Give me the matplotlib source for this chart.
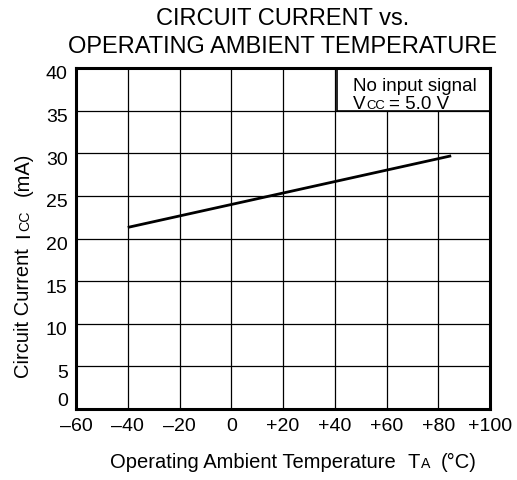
import matplotlib
matplotlib.use('Agg')
import matplotlib.pyplot as plt
from matplotlib.patches import Rectangle
from matplotlib.transforms import IdentityTransform, ScaledTranslation

plt.rcParams['font.family'] = 'Liberation Sans'

# data
temp = [-40, 85]          # Ta (deg C)
icc = [21.3, 29.7]        # Icc (mA)

xticks = [-60, -40, -20, 0, 20, 40, 60, 80, 100]
xlabels = ['\u201360', '\u201340', '\u201320', '0', '+20', '+40', '+60', '+80', '+100']
yticks = [0, 5, 10, 15, 20, 25, 30, 35, 40]

W, H = 517, 481
fig = plt.figure(figsize=(W / 100, H / 100), dpi=100)
ax = fig.add_axes([76 / W, 1 - 410 / H, 414 / W, 341 / H])

ax.plot(temp, icc, color='black', lw=2, solid_capstyle='butt', zorder=3)

ax.set_xlim(-60, 100)
ax.set_ylim(0, 40)
ax.set_xticks(xticks)
ax.set_xticklabels(xlabels, fontsize=14)
ax.set_yticks(yticks)
ax.set_yticklabels([str(v) for v in yticks], fontsize=14)
ax.tick_params(length=0, pad=6)
ax.grid(True, color='black', lw=0.9)
ax.set_axisbelow(True)
for s in ax.spines.values():
    s.set_linewidth(2.2)

# nudge tick labels like the original
dy = ScaledTranslation(0, -4 / 100, fig.dpi_scale_trans)
for lab in ax.get_yticklabels():
    lab.set_transform(lab.get_transform() + dy)
ax.get_yticklabels()[0].set_verticalalignment('bottom')
ax.get_yticklabels()[0].set_transform(ax.get_yticklabels()[0].get_transform()
                                      + ScaledTranslation(0, 4 / 100, fig.dpi_scale_trans))

# note box
ax.add_patch(Rectangle((41, 35), 59, 5, facecolor='white', edgecolor='black',
                       lw=1.2, zorder=2))

renderer = fig.canvas.get_renderer()


def text_width(s, size):
    t = fig.text(0, 0, s, fontsize=size)
    w = t.get_window_extent(renderer).width
    t.remove()
    return w


def rich(x0, y0, parts, size, rotation=0):
    # parts: (text, scale, gap_px after); x0,y0 pixels from top-left
    off = 0
    for s, scale, gap in parts:
        if rotation == 0:
            x, y = x0 + off, H - y0
        else:
            x, y = x0, H - y0 + off
        fig.text(x, y, s, fontsize=size * scale, rotation=rotation,
                 rotation_mode='anchor', ha='left', va='baseline',
                 transform=IdentityTransform())
        off += text_width(s, size * scale) + gap


# title
fig.text(283 / W, 1 - 25 / H, 'CIRCUIT CURRENT vs.', ha='center', va='baseline', fontsize=17)
fig.text(283 / W, 1 - 53 / H, 'OPERATING AMBIENT TEMPERATURE', ha='center', va='baseline', fontsize=17)

# axis labels
rich(110, 468, [('Operating Ambient Temperature', 1, 12), ('T', 1, 1),
                ('A', 0.7, 10), ('(\u00b0C)', 1, 0)], 14.5)
rich(29, 378, [('Circuit Current', 1, 10), ('I', 1, 1),
               ('CC', 0.7, 15), ('(mA)', 1, 0)], 14.5, rotation=90)

# note text
rich(353, 91, [('No input signal', 1, 0)], 13.5)
rich(353, 109, [('V', 1, 1), ('CC', 0.7, 4), ('= 5.0 V', 1, 0)], 13.5)

fig.savefig('out.png', dpi=100)
